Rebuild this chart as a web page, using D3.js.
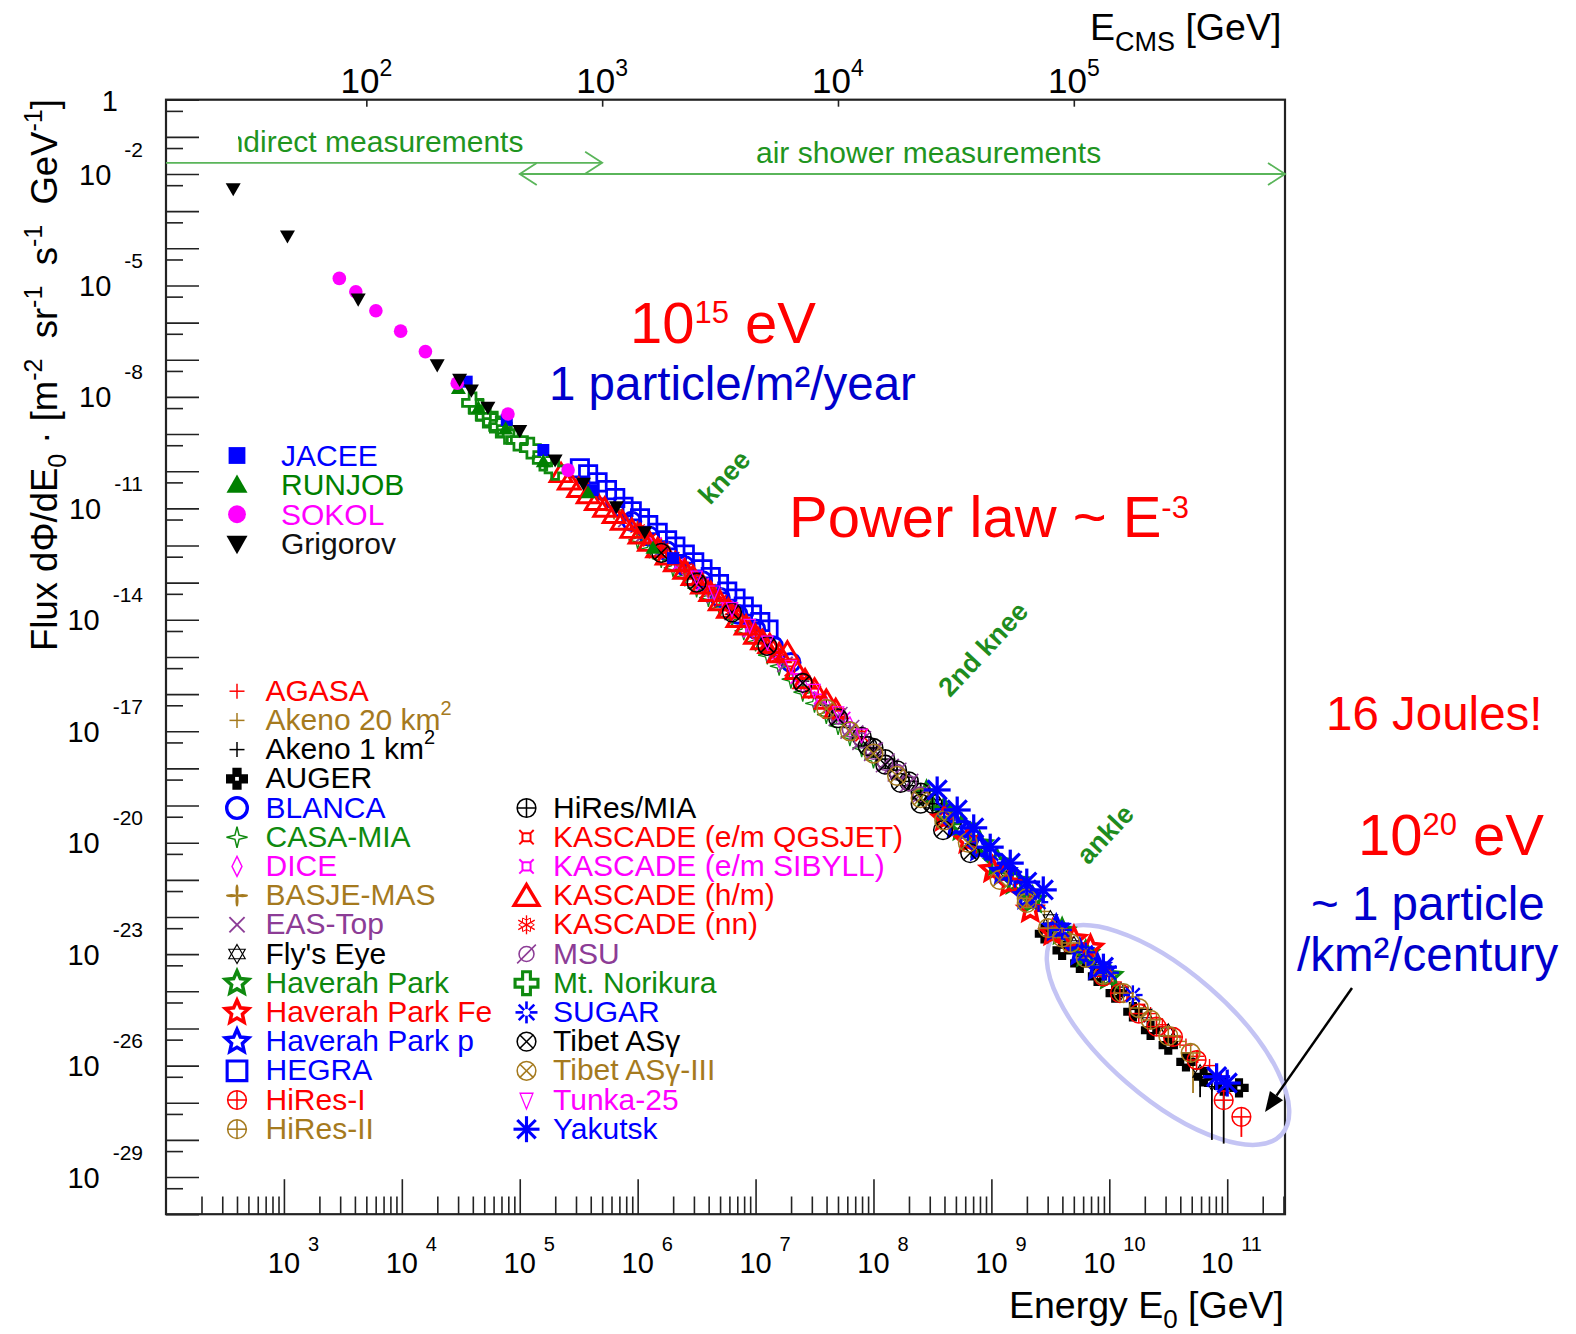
<!DOCTYPE html>
<html>
<head>
<meta charset="utf-8">
<style>
body { margin: 0; background: #fff; }
svg { display: block; font-family: "Liberation Sans", Arial, Helvetica, sans-serif; }
text { white-space: pre; }
</style>
</head>
<body>
<script src="https://cdn.jsdelivr.net/npm/d3@7"></script>
<svg id="chart" width="1576" height="1334"></svg>
<script>
// every point: [log10 E0 (GeV), log10 flux (m^-2 sr^-1 s^-1 GeV^-1), optional log10 lower end of error bar]
const jacee    = [[4.55,-7.59],[4.89,-8.62],[5.20,-9.43],[5.62,-10.51],[6.30,-12.34]];
const runjob   = [[4.48,-7.77],[4.65,-8.30],[4.88,-8.86],[5.20,-9.74],[5.58,-10.58],[6.13,-12.07]];
const sokol    = [[3.47,-4.81],[3.61,-5.17],[3.78,-5.68],[3.99,-6.23],[4.20,-6.78],[4.47,-7.63],[4.90,-8.46],[5.41,-9.97]];
const grigorov = [[2.57,-2.40],[3.03,-3.67],[3.63,-5.37],[4.30,-7.14],[4.49,-7.53],[4.59,-7.82],[4.73,-8.28],[5.00,-8.91],[5.30,-9.70],[5.54,-10.33],[5.82,-10.96],[6.06,-11.63]];

const agasa    = [[9.55,-22.15],[9.65,-22.55],[9.75,-22.85],[9.85,-23.2],[9.95,-23.45],[10.05,-23.75],[10.15,-24.05],[10.25,-24.35],[10.35,-24.6],[10.45,-24.9],[10.55,-25.2],[10.65,-25.45],[10.75,-25.75],[10.85,-26.0],[10.95,-26.35]];
const akeno20  = [[9.45,-21.85],[9.6,-22.3],[9.8,-22.95],[10.0,-23.55],[10.2,-24.15],[10.4,-24.75],[10.6,-25.35],[10.71,-25.85,-26.74]];
const akeno1   = [[6.8,-13.85],[7.0,-14.4],[7.2,-15.0],[7.4,-15.65],[7.6,-16.3],[7.8,-16.9],[8.0,-17.5],[8.2,-18.05],[8.4,-18.6],[8.6,-19.2],[8.8,-19.8]];
const auger    = [[9.45,-22.45],[9.6,-22.9],[9.75,-23.25],[9.9,-23.6],[10.05,-24.05],[10.2,-24.55],[10.35,-25.05],[10.5,-25.45],[10.65,-25.9],[10.8,-26.3],[10.97,-26.55,-28.1],[11.1,-26.6]];
const blanca   = [[5.95,-11.35],[6.1,-11.75],[6.25,-12.15],[6.4,-12.55],[6.55,-12.95],[6.7,-13.4],[6.85,-13.85],[7.0,-14.25],[7.15,-14.7],[7.3,-15.15]];
const casaMia  = [[6.0,-11.85],[6.1,-12.1],[6.2,-12.35],[6.3,-12.6],[6.4,-12.85],[6.5,-13.15],[6.6,-13.4],[6.7,-13.7],[6.8,-13.95],[6.9,-14.3],[7.0,-14.6],[7.1,-14.95],[7.2,-15.25],[7.3,-15.6],[7.4,-15.95],[7.5,-16.25],[7.6,-16.55],[7.7,-16.85],[7.8,-17.15],[7.9,-17.45],[8.0,-17.75]];
const dice     = [[6.2,-12.1],[6.4,-12.65],[6.6,-13.2],[6.8,-13.8],[7.0,-14.4],[7.2,-15.05],[7.4,-15.75],[7.6,-16.3],[7.8,-16.85]];
const basjeMas = [[5.8,-11.05],[6.0,-11.55],[6.2,-12.05],[6.4,-12.6],[6.6,-13.15],[6.8,-13.7],[7.0,-14.3]];
const easTop   = [[5.9,-11.3],[6.05,-11.7],[6.2,-12.1],[6.35,-12.5],[6.5,-12.9],[6.65,-13.35],[6.8,-13.8],[6.95,-14.25],[7.1,-14.7],[7.25,-15.2],[7.4,-15.7],[7.55,-16.15],[7.7,-16.6],[7.85,-17.05],[8.0,-17.5],[8.15,-17.95]];
const flysEye  = [[8.3,-18.35],[8.5,-18.95],[8.7,-19.5],[8.9,-20.05],[9.1,-20.7],[9.3,-21.35],[9.5,-22.05],[9.7,-22.75],[9.9,-23.4],[10.1,-24.0],[10.3,-24.6],[10.5,-25.1],[10.77,-26.2,-26.85],[10.87,-26.45,-28.0]];
const haverah  = [[8.45,-18.7],[8.6,-19.15],[8.75,-19.6],[8.9,-20.05],[9.05,-20.55],[9.2,-21.05],[9.35,-21.55],[9.6,-22.4],[9.8,-23.0],[10.0,-23.6]];
const haverahFe= [[8.6,-19.35],[8.8,-19.95],[9.01,-20.73],[9.15,-21.1],[9.33,-21.81],[9.52,-22.43],[9.7,-22.6],[9.84,-22.84]];
const haverahP = [[8.7,-19.55],[8.9,-20.15],[9.1,-20.8],[9.3,-21.45],[9.55,-22.3],[9.75,-22.95],[9.9,-23.35]];
const hegra    = [[5.51,-9.92],[5.58,-10.08],[5.66,-10.3],[5.74,-10.51],[5.81,-10.72],[5.88,-10.96],[5.95,-11.08],[6.02,-11.27],[6.09,-11.45],[6.17,-11.66],[6.25,-11.86],[6.32,-12.03],[6.40,-12.24],[6.48,-12.45],[6.55,-12.64],[6.62,-12.85],[6.69,-13.04],[6.76,-13.24],[6.83,-13.43],[6.90,-13.64],[6.97,-13.86],[7.04,-14.06],[7.11,-14.26]];
const hiRes1   = [[9.95,-23.6],[10.09,-24.05],[10.25,-24.6],[10.4,-24.95],[10.54,-25.23],[10.74,-25.85],[10.97,-26.93],[11.12,-27.38,-27.92]];
const hiRes2   = [[9.3,-21.5],[9.48,-22.3],[9.6,-22.55],[9.67,-22.7],[9.8,-23.1],[9.95,-23.55],[10.12,-24.05],[10.25,-24.45],[10.35,-24.77],[10.5,-25.2],[10.69,-25.66]];
const hiResMia = [[7.9,-17.15],[8.0,-17.45],[8.1,-17.75],[8.2,-18.05],[8.3,-18.35],[8.4,-18.65],[8.5,-18.95]];
const kascadeQ = [[6.1,-11.85],[6.3,-12.35],[6.5,-12.9],[6.7,-13.5],[6.9,-14.1],[7.1,-14.75],[7.3,-15.35],[7.5,-15.95],[7.7,-16.55],[7.9,-17.1]];
const kascadeS = [[6.15,-11.95],[6.35,-12.5],[6.55,-13.05],[6.75,-13.65],[6.95,-14.3],[7.15,-14.95],[7.35,-15.55],[7.55,-16.1],[7.75,-16.65]];
const kascadeHM= [[5.35,-10.05],[5.42,-10.25],[5.5,-10.45],[5.58,-10.62],[5.65,-10.8],[5.72,-10.98],[5.8,-11.15],[5.87,-11.33],[5.95,-11.55],[6.02,-11.7],[6.1,-11.9],[6.17,-12.07],[6.25,-12.27],[6.32,-12.45],[6.4,-12.65],[6.47,-12.82],[6.55,-13.05],[6.62,-13.25],[6.7,-13.5],[6.77,-13.7],[6.85,-13.95],[6.92,-14.15],[7.0,-14.4],[7.06,-14.55],[7.12,-14.65],[7.2,-14.9],[7.27,-14.85],[7.35,-15.35],[7.42,-15.6],[7.5,-15.85],[7.6,-16.15],[7.68,-16.4]];
const kascadeNN= [[6.0,-11.55],[6.2,-12.05],[6.4,-12.6],[6.6,-13.15],[6.8,-13.75],[7.0,-14.35],[7.2,-15.0]];
const msu      = [[7.7,-16.6],[7.8,-16.95],[7.9,-17.25],[8.0,-17.55],[8.1,-17.85],[8.2,-18.1],[8.3,-18.4],[8.4,-18.7]];
const norikura = [[4.60,-8.16],[4.66,-8.35],[4.72,-8.54],[4.78,-8.68],[4.83,-8.81],[4.90,-8.98],[4.98,-9.16],[5.09,-9.38],[5.2,-9.7],[5.3,-9.95]];
const sugar    = [[8.6,-19.1],[8.8,-19.7],[9.0,-20.3],[9.2,-20.95],[9.4,-21.6],[9.6,-22.35],[9.8,-22.95],[10.0,-23.5],[10.2,-24.1]];
const tibet    = [[6.2,-12.2],[6.5,-13.0],[6.8,-13.8],[7.1,-14.7],[7.4,-15.7],[7.7,-16.65],[7.95,-17.4],[8.1,-17.9],[8.23,-18.39],[8.4,-18.95],[8.59,-19.66],[8.82,-20.28]];
const tibet3   = [[7.6,-16.4],[7.8,-17.0],[8.0,-17.6],[8.2,-18.2],[8.4,-18.8],[8.6,-19.4],[8.8,-20.0],[9.07,-21.0],[9.30,-21.62]];
const tunka    = [[6.5,-12.85],[6.65,-13.25],[6.8,-13.7],[6.95,-14.15],[7.1,-14.6],[7.3,-15.25],[7.5,-15.9],[7.7,-16.5],[7.9,-17.1]];
const yakutsk  = [[8.54,-18.58],[8.71,-19.12],[8.85,-19.6],[8.99,-20.12],[9.16,-20.55],[9.30,-21.06],[9.44,-21.27],[9.95,-23.35],[10.91,-26.3],[11.0,-26.47]];

const directNames = ['JACEE', 'RUNJOB', 'SOKOL', 'Grigorov'];
const showerNames = ['AGASA', 'Akeno 20 km^{2}', 'Akeno 1 km^{2}', 'AUGER', 'BLANCA', 'CASA-MIA', 'DICE', 'BASJE-MAS',
  'EAS-Top', "Fly's Eye", 'Haverah Park', 'Haverah Park Fe', 'Haverah Park p', 'HEGRA', 'HiRes-I', 'HiRes-II',
  'HiRes/MIA', 'KASCADE (e/m QGSJET)', 'KASCADE (e/m SIBYLL)', 'KASCADE (h/m)', 'KASCADE (nn)', 'MSU', 'Mt. Norikura',
  'SUGAR', 'Tibet ASγ', 'Tibet ASγ-III', 'Tunka-25', 'Yakutsk'];

const yLabelExp = [-2, -5, -8, -11, -14, -17, -20, -23, -26, -29];
const xLabelExp = [3, 4, 5, 6, 7, 8, 9, 10, 11];
const cmsLabelExp = [2, 3, 4, 5];
const directRange = [1e2, 5e5], directLevel = 2e-2;
const showerRange = [1e5, 10 ** 11.49], showerLevel = 1e-2;

const RED = '#ff0000', GREEN = '#0f8a0f', BLUE = '#0000ff', MAG = '#ff00ff', BROWN = '#a57a1e', PURPLE = '#8c3c96', BLACK = '#000';

const direct = [
  { pts: jacee, shape: 'sqF', color: BLUE, size: 15 },
  { pts: runjob, shape: 'triF', color: '#008000', size: 15 },
  { pts: sokol, shape: 'circF', color: MAG, size: 16 },
  { pts: grigorov, shape: 'tridF', color: BLACK, size: 15 }
].map((d, i) => ({ ...d, name: directNames[i] }));

const shower = [
  { pts: agasa, shape: 'plus', color: RED, ls: 15 },
  { pts: akeno20, shape: 'plus', color: BROWN, ls: 15 },
  { pts: akeno1, shape: 'plus', color: BLACK, ls: 15 },
  { pts: auger, shape: 'auger', color: BLACK, ls: 22 },
  { pts: blanca, shape: 'circO', color: BLUE, ls: 24 },
  { pts: casaMia, shape: 'star4O', color: GREEN, ls: 21 },
  { pts: dice, shape: 'diamO', color: MAG, ls: 20 },
  { pts: basjeMas, shape: 'basje', color: BROWN, ls: 22 },
  { pts: easTop, shape: 'x', color: PURPLE, ls: 19 },
  { pts: flysEye, shape: 'david', color: BLACK, ls: 19 },
  { pts: haverah, shape: 'star5O', color: GREEN, ls: 27 },
  { pts: haverahFe, shape: 'star5O', color: RED, ls: 27 },
  { pts: haverahP, shape: 'star5O', color: BLUE, ls: 27 },
  { pts: hegra, shape: 'sqO', color: BLUE, ls: 24 },
  { pts: hiRes1, shape: 'oplus', color: RED, ls: 22 },
  { pts: hiRes2, shape: 'oplus', color: BROWN, ls: 22 },
  { pts: hiResMia, shape: 'oplus', color: BLACK, ls: 22 },
  { pts: kascadeQ, shape: 'curr', color: RED, ls: 18 },
  { pts: kascadeS, shape: 'curr', color: MAG, ls: 18 },
  { pts: kascadeHM, shape: 'triO', color: RED, ls: 26 },
  { pts: kascadeNN, shape: 'snow', color: RED, ls: 19 },
  { pts: msu, shape: 'empty', color: PURPLE, ls: 22 },
  { pts: norikura, shape: 'crossO', color: GREEN, ls: 26 },
  { pts: sugar, shape: 'ast6', color: BLUE, ls: 22 },
  { pts: tibet, shape: 'otimes', color: BLACK, ls: 22 },
  { pts: tibet3, shape: 'otimes', color: BROWN, ls: 22 },
  { pts: tunka, shape: 'tridO', color: MAG, ls: 18 },
  { pts: yakutsk, shape: 'ast', color: BLUE, ls: 26 }
].map((d, i) => ({
  ...d, name: showerNames[i],
  size: d.shape === 'ast' ? 27 : ['otimes', 'oplus', 'empty', 'star5O', 'x'].includes(d.shape) ? d.ls : d.ls * 0.88
}));

const svg = d3.select('#chart');
const x = d3.scaleLog().domain([1e2, 10 ** 11.49]).range([166, 1285]);
const y = d3.scaleLog().domain([1, 1e-30]).range([99.7, 1214.2]);
// centre-of-mass energy for a proton on a 1 GeV target: E_cms = sqrt(2 E0)
const xc = d3.scaleLog().domain([Math.sqrt(2 * 1e2), Math.sqrt(2 * 10 ** 11.49)]).range([166, 1285]);
const FONT = '"Liberation Sans", Arial, Helvetica, sans-serif';

svg.append('rect').attr('width', 1576).attr('height', 1334).attr('fill', '#fff');

// text with ^{sup} and _{sub}
function rich(t, s, fs, o = {}) {
  const rise = o.rise || fs * 0.42, drop = o.drop || fs * 0.25;
  const parts = s.split(/([\^_]\{[^}]*\})/).filter(p => p.length);
  let cur = 0;
  parts.forEach(p => {
    let off = 0, size = fs, txt = p;
    if (p[0] === '^') { off = -rise; size = o.supSize || fs * 0.65; txt = p.slice(2, -1); }
    else if (p[0] === '_') { off = drop; size = o.subSize || fs * 0.65; txt = p.slice(2, -1); }
    t.append('tspan').attr('dy', off - cur).attr('font-size', size).text(txt);
    cur = off;
  });
  return t;
}

function drawMarker(g, shape, s, c) {
  const r = s / 2;
  const P = (a, rad) => [rad * Math.cos(a * Math.PI / 180), rad * Math.sin(a * Math.PI / 180)];
  const poly = pts => 'M' + pts.map(p => p.join(',')).join('L') + 'Z';
  const ln = (x1, y1, x2, y2, w) => g.append('line').attr('x1', x1).attr('y1', y1).attr('x2', x2).attr('y2', y2)
    .attr('stroke', c).attr('stroke-width', w);
  const fillP = d => g.append('path').attr('d', d).attr('fill', c);
  const strokeP = (d, w) => g.append('path').attr('d', d).attr('fill', 'none').attr('stroke', c).attr('stroke-width', w);
  const ring = (rad, w) => g.append('circle').attr('r', rad).attr('fill', 'none').attr('stroke', c).attr('stroke-width', w);
  const star = (n, ro, ri, a0) => poly(d3.range(2 * n).map(i => P(a0 + i * 180 / n, i % 2 ? ri : ro)));
  const thin = Math.max(1.3, s * .07);
  switch (shape) {
    case 'sqF': fillP(poly([[-r * .8, -r * .8], [r * .8, -r * .8], [r * .8, r * .8], [-r * .8, r * .8]])); break;
    case 'triF': fillP(poly([[0, -r], [r, r * .75], [-r, r * .75]])); break;
    case 'tridF': fillP(poly([[0, r], [r, -r * .75], [-r, -r * .75]])); break;
    case 'circF': g.append('circle').attr('r', r * .85).attr('fill', c); break;
    case 'plus': ln(-r, 0, r, 0, Math.max(1.4, s * .1)); ln(0, -r, 0, r, Math.max(1.4, s * .1)); break;
    case 'auger': {
      const w = r * .42;
      fillP(poly([[-w, -r], [w, -r], [w, -w], [r, -w], [r, w], [w, w], [w, r], [-w, r], [-w, w], [-r, w], [-r, -w], [-w, -w]]));
      g.append('rect').attr('x', -r * .17).attr('y', -r * .17).attr('width', r * .34).attr('height', r * .34).attr('fill', '#fff');
      break;
    }
    case 'circO': ring(r - s * .07, s * .14); break;
    case 'star4O': strokeP(star(4, r, r * .28, -90), thin); break;
    case 'diamO': strokeP(poly([[0, -r], [r * .5, 0], [0, r], [-r * .5, 0]]), thin); break;
    case 'basje':
      [0, 90, 180, 270].forEach(a => {
        const [px, py] = P(a, r * .5);
        g.append('ellipse').attr('cx', px).attr('cy', py).attr('rx', a % 180 ? r * .14 : r * .5)
          .attr('ry', a % 180 ? r * .5 : r * .14).attr('fill', c);
      });
      break;
    case 'x': ln(-r * .8, -r * .8, r * .8, r * .8, s * .1); ln(-r * .8, r * .8, r * .8, -r * .8, s * .1); break;
    case 'david':
      strokeP(poly([P(-90, r), P(30, r), P(150, r)]), Math.max(1.1, s * .06));
      strokeP(poly([P(90, r), P(210, r), P(330, r)]), Math.max(1.1, s * .06));
      break;
    case 'star5O': strokeP(star(5, r * .9, r * .42, -90), s * .13); break;
    case 'sqO': strokeP(poly([[-r * .82, -r * .82], [r * .82, -r * .82], [r * .82, r * .82], [-r * .82, r * .82]]), s * .13); break;
    case 'oplus': ring(r * .85, thin); ln(-r * .85, 0, r * .85, 0, thin); ln(0, -r * .85, 0, r * .85, thin); break;
    case 'otimes': {
      ring(r * .85, thin);
      const d = r * .85 * Math.SQRT1_2;
      ln(-d, -d, d, d, thin); ln(-d, d, d, -d, thin);
      break;
    }
    case 'curr':
      g.append('rect').attr('x', -r * .45).attr('y', -r * .45).attr('width', r * .9).attr('height', r * .9).attr('rx', r * .2)
        .attr('fill', 'none').attr('stroke', c).attr('stroke-width', s * .11);
      [[-1, -1], [1, -1], [1, 1], [-1, 1]].forEach(([a, b]) => ln(a * r * .4, b * r * .4, a * r * .8, b * r * .8, s * .11));
      break;
    case 'triO': strokeP(poly([[0, -r * .85], [r * .95, r * .75], [-r * .95, r * .75]]), s * .13); break;
    case 'snow':
      [90, 30, 150].forEach(a => { const [px, py] = P(a, r); ln(-px, -py, px, py, Math.max(1.2, s * .07)); });
      [90, 30, 150, 270, 210, 330].forEach(a => {
        const b = P(a, r * .5);
        [a - 30, a + 30].forEach(t => { const q = P(t, r * .82); ln(b[0], b[1], q[0], q[1], Math.max(1, s * .05)); });
      });
      break;
    case 'empty': ring(r * .68, thin); ln(-r * .85, r * .85, r * .85, -r * .85, thin); break;
    case 'crossO': {
      const w = r * .3, e = r * .88;
      strokeP(poly([[-w, -e], [w, -e], [w, -w], [e, -w], [e, w], [w, w], [w, e], [-w, e], [-w, w], [-e, w], [-e, -w], [-w, -w]]), s * .12);
      break;
    }
    case 'ast6': d3.range(8).forEach(i => { const a = P(i * 45, r * .3), b = P(i * 45, r); ln(a[0], a[1], b[0], b[1], s * .12); }); break;
    case 'tridO': strokeP(poly([[0, r], [r * .72, -r * .75], [-r * .72, -r * .75]]), Math.max(1.2, s * .07)); break;
    case 'ast': [0, 45, 90, 135].forEach(a => { const [px, py] = P(a, r); ln(-px, -py, px, py, s * .12); }); break;
  }
}

// ---- axes ----
const ax = svg.append('g');
const minorX = [], majorX = [];
for (let k = 2; k <= 11; k++) {
  if (k > 2) majorX.push(10 ** k);
  for (let m = 2; m <= 9; m++) if (m * 10 ** k <= 10 ** 11.49) minorX.push(m * 10 ** k);
}
const styleAxis = g => { g.select('.domain').remove(); g.selectAll('.tick line').attr('stroke', '#222').attr('stroke-width', 1.6); g.selectAll('.tick text').remove(); };
ax.append('g').attr('transform', 'translate(0,1214.2)').call(d3.axisTop(x).tickValues(minorX).tickSize(17.7)).call(styleAxis);
ax.append('g').attr('transform', 'translate(0,1214.2)').call(d3.axisTop(x).tickValues(majorX).tickSize(35)).call(styleAxis);
const majorY = d3.range(0, -31, -1).map(k => 10 ** k);
const minorY = d3.range(-1, -31, -1).map(k => 5 * 10 ** k);
ax.append('g').attr('transform', 'translate(166,0)').call(d3.axisRight(y).tickValues(majorY).tickSize(33)).call(styleAxis);
ax.append('g').attr('transform', 'translate(166,0)').call(d3.axisRight(y).tickValues(minorY).tickSize(17)).call(styleAxis);
ax.append('g').attr('transform', 'translate(0,99.7)').call(d3.axisBottom(xc).tickValues(cmsLabelExp.map(k => 10 ** k)).tickSize(7)).call(styleAxis);

svg.append('rect').attr('x', 166).attr('y', 99.7).attr('width', 1285 - 166).attr('height', 1214.2 - 99.7)
  .attr('fill', 'none').attr('stroke', '#222').attr('stroke-width', 2.2);

// tick labels
const lab = svg.append('g').attr('font-family', FONT).attr('fill', '#000');
xLabelExp.forEach(k => {
  const cx = x(10 ** k) - (k >= 10 ? 10 : 0);
  lab.append('text').attr('x', cx).attr('y', 1273).attr('text-anchor', 'middle').attr('font-size', 29).text('10');
  lab.append('text').attr('x', cx + 16 + 8).attr('y', 1251).attr('font-size', 20).text(k);
});
lab.append('text').attr('x', 118).attr('y', 110.5).attr('text-anchor', 'end').attr('font-size', 29).text('1');
yLabelExp.forEach(k => {
  const ty = y(10 ** k);
  const ex = lab.append('text').attr('x', 143).attr('y', ty - 17.5).attr('text-anchor', 'end').attr('font-size', 21).text(k);
  const w = ex.node().getComputedTextLength();
  lab.append('text').attr('x', 143 - w - 13).attr('y', ty + 10.5).attr('text-anchor', 'end').attr('font-size', 29).text('10');
});
cmsLabelExp.forEach(k => {
  const t = lab.append('text').attr('x', xc(10 ** k)).attr('y', 93).attr('text-anchor', 'middle');
  rich(t, '10^{' + k + '}', 35, { supSize: 23, rise: 17 });
});

// axis titles
rich(svg.append('text').attr('x', 1284).attr('y', 1318).attr('text-anchor', 'end').attr('font-family', FONT),
  'Energy E_{0} [GeV]', 37.5, { subSize: 26, drop: 10 });
rich(svg.append('text').attr('x', 1090).attr('y', 40).attr('font-family', FONT),
  'E_{CMS} [GeV]', 37.5, { subSize: 27, drop: 11 });
rich(svg.append('text').attr('transform', 'translate(57,651) rotate(-90)').attr('font-family', FONT),
  'Flux dΦ/dE_{0} · [m^{-2}  sr^{-1}  s^{-1}  GeV^{-1}]', 36.5, { subSize: 25, supSize: 25, rise: 15, drop: 9 });

// ---- measurement ranges ----
const ARROW = '#5ab55a', TXTGREEN = '#1f951f';
const arr = svg.append('g').attr('stroke', ARROW).attr('stroke-width', 1.8).attr('fill', 'none');
const head = (tx, ty, dir) => arr.append('path').attr('d', `M${tx - dir * 17},${ty - 11}L${tx},${ty}L${tx - dir * 17},${ty + 11}`);
arr.append('line').attr('x1', x(directRange[0])).attr('x2', x(directRange[1])).attr('y1', y(directLevel)).attr('y2', y(directLevel));
head(x(directRange[1]), y(directLevel), 1);
arr.append('line').attr('x1', x(showerRange[0])).attr('x2', x(showerRange[1])).attr('y1', y(showerLevel)).attr('y2', y(showerLevel));
head(x(showerRange[0]), y(showerLevel), -1);
head(x(showerRange[1]), y(showerLevel), 1);
svg.append('clipPath').attr('id', 'clipInd').append('rect').attr('x', 238).attr('y', 100).attr('width', 500).attr('height', 80);
svg.append('text').attr('clip-path', 'url(#clipInd)').attr('x', 220).attr('y', 152).attr('font-family', FONT)
  .attr('font-size', 30).attr('fill', TXTGREEN).text('indirect measurements');
svg.append('text').attr('x', 756).attr('y', 163).attr('font-family', FONT).attr('font-size', 30).attr('fill', TXTGREEN)
  .text('air shower measurements');

// ---- highlight ellipse ----
svg.append('ellipse').attr('transform', 'translate(1168,1035) rotate(41)').attr('rx', 151).attr('ry', 63)
  .attr('fill', 'none').attr('stroke', '#c4c4f4').attr('stroke-width', 4.5);

// ---- data ----
svg.append('clipPath').attr('id', 'clipPlot').append('rect').attr('x', 167).attr('y', 101).attr('width', 1117).attr('height', 1112);
const plot = svg.append('g').attr('clip-path', 'url(#clipPlot)');
[...shower, ...direct].forEach(ex => {
  ex.pts.forEach(p => {
    const px = x(10 ** p[0]), py = y(10 ** p[1]);
    if (p.length > 2) plot.append('line').attr('x1', px).attr('x2', px).attr('y1', py).attr('y2', y(10 ** p[2]))
      .attr('stroke', ex.color).attr('stroke-width', 1.8);
    drawMarker(plot.append('g').attr('transform', `translate(${px},${py})`), ex.shape, ex.size, ex.color);
  });
});

// ---- legends ----
const leg = svg.append('g').attr('font-family', FONT).attr('font-size', 30);
direct.forEach((d, i) => {
  const by = 466 + i * 29.4;
  drawMarker(leg.append('g').attr('transform', `translate(237,${by - 10.5})`), d.shape, 21, d.color);
  leg.append('text').attr('x', 281).attr('y', by).attr('fill', d.color === BLACK ? '#111' : d.color).text(d.name);
});
shower.forEach((d, i) => {
  const col = i < 16 ? 0 : 1, row = i < 16 ? i : i - 12;
  const by = 700.7 + row * 29.2;
  const mx = col ? 526.5 : 237, tx = col ? 553 : 265.5;
  drawMarker(leg.append('g').attr('transform', `translate(${mx},${by - 9.5})`), d.shape, d.ls, d.color);
  rich(leg.append('text').attr('x', tx).attr('y', by).attr('fill', d.color), d.name, 30, { supSize: 20, rise: 15 });
});

// ---- annotations ----
const ann = svg.append('g').attr('font-family', FONT);
rich(ann.append('text').attr('x', 630).attr('y', 343).attr('fill', RED), '10^{15} eV', 58, { supSize: 31, rise: 20 });
ann.append('text').attr('x', 549).attr('y', 400).attr('fill', '#0000cc').attr('font-size', 47.5).text('1 particle/m²/year');
rich(ann.append('text').attr('x', 789).attr('y', 537).attr('fill', RED), 'Power law ~ E^{-3}', 58, { supSize: 31, rise: 19 });
ann.append('text').attr('x', 1326).attr('y', 730).attr('fill', RED).attr('font-size', 47.5).text('16 Joules!');
rich(ann.append('text').attr('x', 1358).attr('y', 855).attr('fill', RED), '10^{20} eV', 58, { supSize: 31, rise: 20 });
ann.append('text').attr('x', 1311).attr('y', 920).attr('fill', '#0000cc').attr('font-size', 47.5).text('~ 1 particle');
ann.append('text').attr('x', 1297).attr('y', 971).attr('fill', '#0000cc').attr('font-size', 47.5).text('/km²/century');
[['knee', 724, 477], ['2nd knee', 983, 649], ['ankle', 1105, 834]].forEach(([t, cx, cy]) => {
  ann.append('text').attr('transform', `translate(${cx},${cy}) rotate(-47)`).attr('text-anchor', 'middle')
    .attr('dy', '0.35em').attr('font-size', 27).attr('font-weight', 'bold').attr('fill', '#1e8c1e').text(t);
});

// arrow to the highest energy events
{
  const x1 = 1352, y1 = 988, x2 = 1265, y2 = 1112;
  const L = Math.hypot(x2 - x1, y2 - y1), ux = (x2 - x1) / L, uy = (y2 - y1) / L;
  const bx = x2 - ux * 20, by = y2 - uy * 20;
  ann.append('line').attr('x1', x1).attr('y1', y1).attr('x2', bx).attr('y2', by).attr('stroke', '#000').attr('stroke-width', 2.5);
  ann.append('path').attr('d', `M${x2},${y2}L${bx - uy * 8},${by + ux * 8}L${bx + uy * 8},${by - ux * 8}Z`).attr('fill', '#000');
}
</script>
</body>
</html>
